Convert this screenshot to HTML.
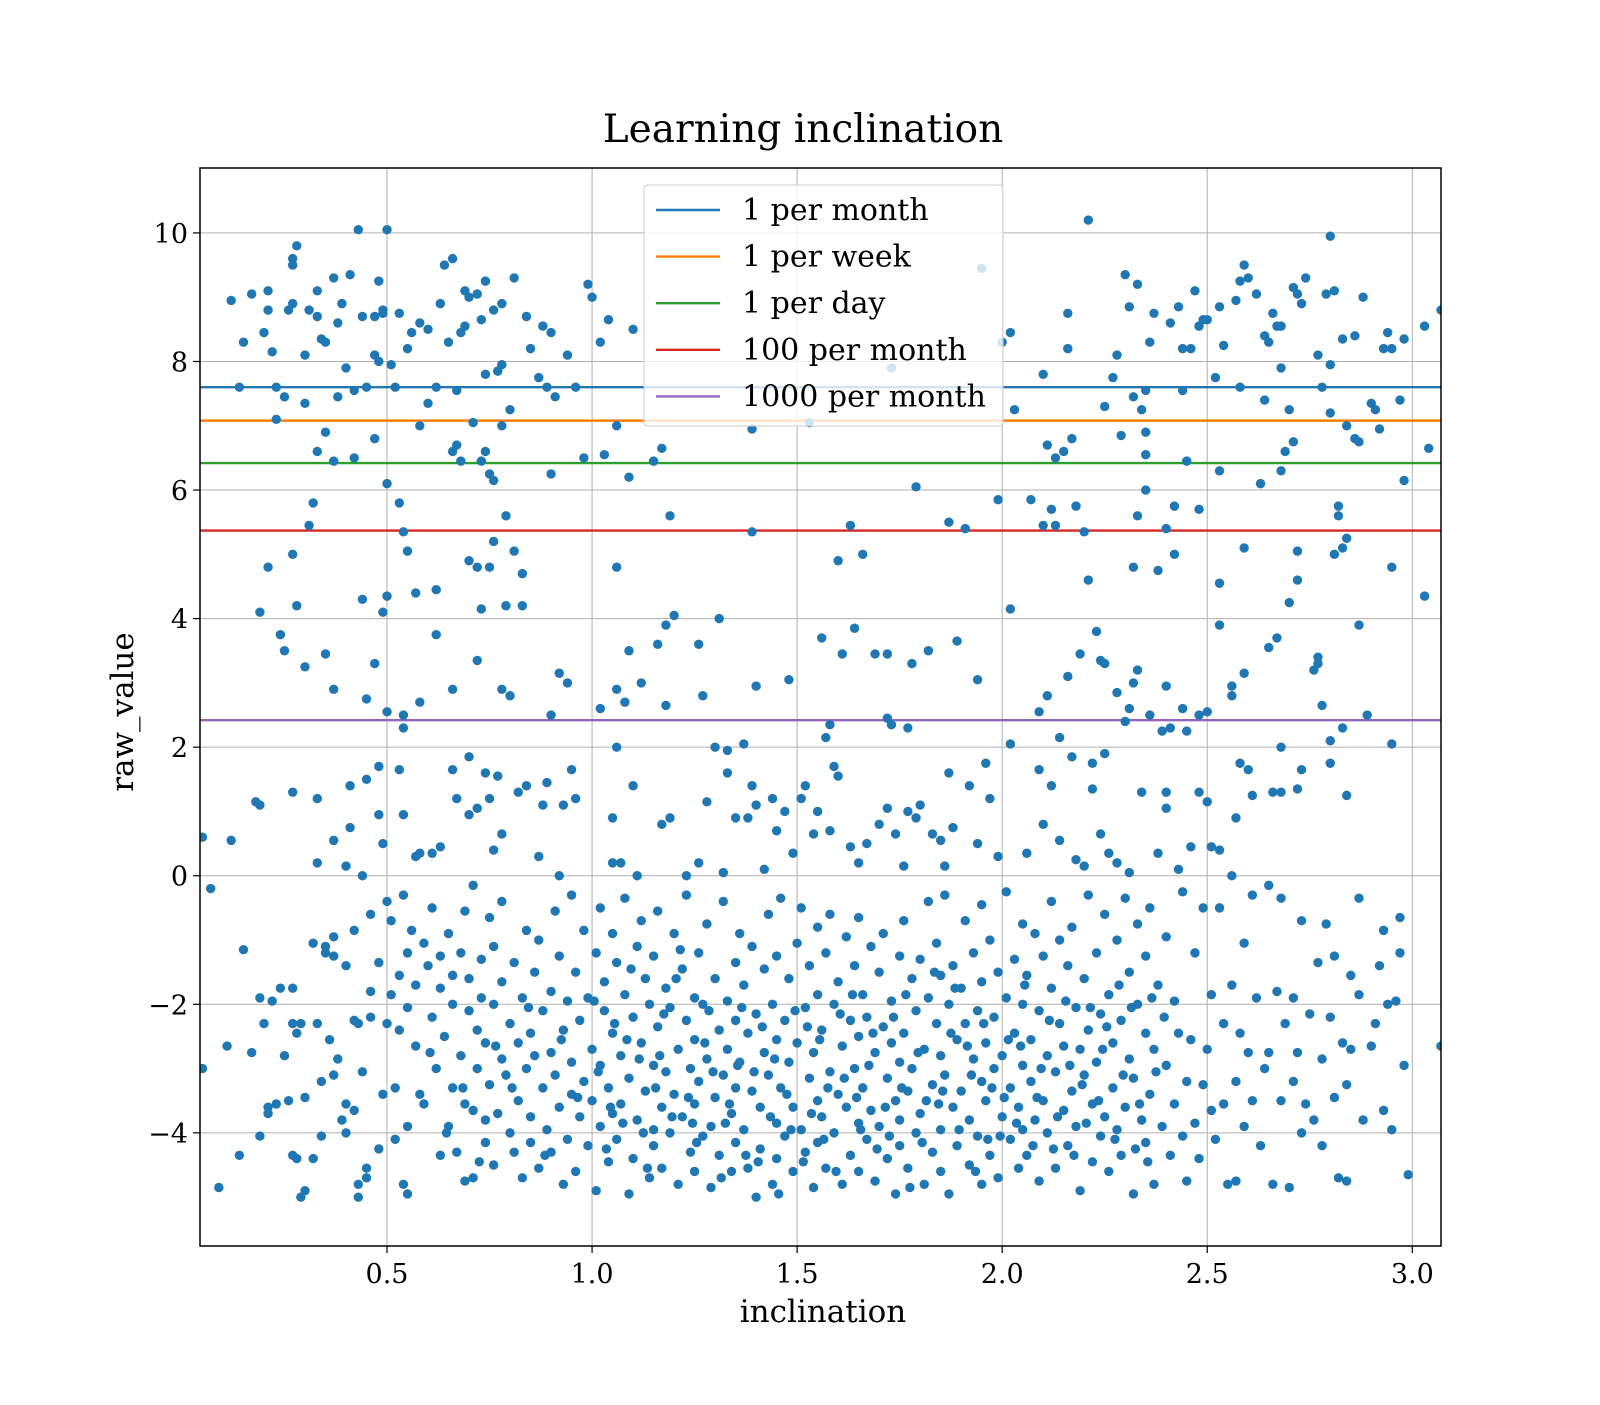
<!DOCTYPE html>
<html><head><meta charset="utf-8"><style>
html,body{margin:0;padding:0;background:#fff}
svg text{font-family:"DejaVu Serif","Liberation Serif",serif;fill:#000}
</style></head><body>
<svg id="chart" width="1600" height="1400" viewBox="0 0 1600 1400">
<rect width="1600" height="1400" fill="#fff"/>
<text x="803" y="142" font-size="39" text-anchor="middle">Learning inclination</text>
<g id="grid"></g>
<g id="hlines"></g>
<g id="points"></g>
<rect x="200" y="168" width="1241" height="1078" fill="none" stroke="#000" stroke-width="1.5"/>
<g id="ticks"></g>
<text x="823" y="1322" font-size="31" text-anchor="middle">inclination</text>
<text x="0" y="0" font-size="31" text-anchor="middle" transform="translate(133,712) rotate(-90)">raw_value</text>
<g id="legend"></g>
</svg>
<script>
const xTicks=[0.5,1.0,1.5,2.0,2.5,3.0];
const xTickLabels=["0.5","1.0","1.5","2.0","2.5","3.0"];
const yTicks=[-4,-2,0,2,4,6,8,10];
const yTickLabels=["\u22124","\u22122","0","2","4","6","8","10"];
const lineNames=["1 per month","1 per week","1 per day","100 per month","1000 per month"];
const lineValues=[7.6,7.08,6.42,5.37,2.42];
const lineColors=["#1f77b4","#ff7f0e","#2ca02c","#d62728","#9467bd"];
const pointData="0.12,8.95;0.14,7.6;0.15,8.3;0.17,9.05;0.2,8.45;0.21,9.1;0.21,8.8;0.22,8.15;0.23,7.6;0.23,7.1;0.25,7.45;0.26,8.8;0.27,8.9;0.27,9.5;0.27,9.6;0.28,9.8;0.30,8.1;0.30,7.35;0.31,8.8;0.33,8.7;0.33,9.1;0.34,8.35;0.35,8.3;0.37,9.3;0.38,7.45;0.38,8.6;0.39,8.9;0.40,7.9;0.41,9.35;0.42,7.55;0.43,10.05;0.44,8.7;0.45,7.6;0.47,8.7;0.47,8.1;0.48,9.25;0.48,8.0;0.49,8.75;0.49,8.8;0.50,10.05;0.51,7.95;0.52,7.6;0.53,8.75;0.55,8.2;0.56,8.45;0.58,8.6;0.58,7.0;0.60,8.5;0.6,7.35;0.62,7.6;0.63,8.9;0.64,9.5;0.65,8.3;0.66,9.6;0.67,7.55;0.68,8.45;0.69,9.1;0.69,8.55;0.70,9.0;0.71,7.05;0.72,9.05;0.73,8.65;0.74,9.25;0.74,7.8;0.76,8.8;0.77,7.85;0.78,8.9;0.78,7.95;0.80,7.25;0.81,9.3;0.84,8.7;0.85,8.2;0.87,7.75;0.88,8.55;0.89,7.6;0.9,8.45;0.91,7.45;0.94,8.1;0.96,7.6;0.99,9.2;1.0,9.0;1.02,8.3;1.04,8.65;1.06,7.0;1.1,8.5;"+
"0.33,6.6;0.35,6.9;0.37,6.45;0.42,6.5;0.47,6.8;0.50,6.1;0.66,6.6;0.67,6.7;0.68,6.45;0.73,6.45;0.74,6.6;0.75,6.25;0.76,6.15;0.78,7.0;0.90,6.25;0.98,6.5;1.03,6.55;1.09,6.2;1.15,6.45;1.17,6.65;1.39,6.95;"+
"0.19,4.1;0.21,4.8;0.27,5.0;0.28,4.2;0.31,5.45;0.32,5.8;0.44,4.3;0.49,4.1;0.5,4.35;0.53,5.8;0.54,5.35;0.55,5.05;0.57,4.4;0.62,4.45;0.70,4.9;0.72,4.8;0.73,4.15;0.75,4.8;0.76,5.2;0.79,5.6;0.79,4.2;0.81,5.05;0.83,4.7;0.83,4.2;1.06,4.8;1.18,3.9;1.2,4.05;1.19,5.6;1.39,5.35;1.31,4.0;"+
"0.24,3.75;0.25,3.5;0.3,3.25;0.35,3.45;0.37,2.9;0.45,2.75;0.47,3.3;0.5,2.55;0.54,2.5;0.54,2.3;0.58,2.7;0.62,3.75;0.66,2.9;0.72,3.35;0.78,2.9;0.80,2.8;0.9,2.5;0.92,3.15;0.94,3.0;1.02,2.6;1.06,2.9;1.08,2.7;1.09,3.5;1.12,3.0;1.16,3.6;1.18,2.65;1.26,3.6;1.27,2.8;1.37,2.05;1.4,2.95;1.06,2.0;1.33,1.95;1.3,2.0;"+
"1.53,7.05;1.73,7.9;1.79,6.05;1.87,5.5;1.91,5.4;1.95,9.45;1.99,5.85;2.0,8.3;2.02,8.45;2.03,7.25;1.6,4.9;1.56,3.7;1.57,2.15;1.58,2.35;1.61,3.45;1.63,5.45;1.64,3.85;1.66,5.0;1.69,3.45;1.72,3.45;1.73,2.35;1.72,2.45;1.77,2.3;1.78,3.3;1.82,3.5;1.89,3.65;1.94,3.05;2.02,4.15;1.48,3.05;"+
"2.1,7.8;2.11,6.7;2.12,5.7;2.13,5.45;2.13,6.5;2.15,6.6;2.16,8.75;2.16,8.2;2.17,6.8;2.18,5.75;2.2,5.35;2.21,10.2;2.23,3.8;2.21,4.6;2.25,7.3;2.27,7.75;2.28,8.1;2.29,6.85;2.3,9.35;2.31,8.85;2.32,7.45;2.33,9.2;2.33,5.6;2.34,7.25;2.35,7.55;2.35,6.9;2.35,6.55;2.35,6.0;2.36,8.3;2.37,8.75;2.38,4.75;2.32,4.8;2.4,5.4;2.41,8.6;2.42,5.75;2.43,8.85;2.44,8.2;2.44,7.55;2.45,6.45;2.46,8.2;2.47,9.1;2.48,8.55;2.48,5.7;2.49,8.65;2.5,8.65;2.52,7.75;2.53,8.85;2.54,8.25;2.53,6.3;2.53,4.55;2.53,3.9;2.57,8.95;2.58,9.25;2.58,7.6;2.59,9.5;2.6,9.3;2.59,5.1;2.62,9.05;2.64,8.4;2.65,8.3;2.66,8.75;2.67,8.55;2.68,8.55;2.68,7.9;2.69,6.6;2.70,7.25;2.71,6.75;2.71,9.15;2.72,9.05;2.73,8.9;2.74,9.3;2.77,8.1;2.78,7.6;2.79,9.05;2.8,9.95;2.81,9.1;2.8,7.95;2.8,7.2;2.82,5.75;2.82,5.6;2.83,8.35;2.84,7.0;2.86,8.4;2.86,6.8;2.87,6.75;2.88,9.0;2.9,7.35;2.91,7.25;2.92,6.95;2.93,8.2;2.94,8.45;2.95,8.2;2.97,7.4;2.98,8.35;2.98,6.15;3.03,8.55;3.07,8.8;3.04,6.65;2.63,6.1;2.68,6.3;2.64,7.4;"+
"2.07,5.85;2.1,5.45;2.09,2.55;2.11,2.8;2.14,2.15;2.16,3.1;2.19,3.45;2.24,3.35;2.25,3.3;2.28,2.85;2.3,2.4;2.31,2.6;2.32,3.0;2.33,3.2;2.36,2.5;2.39,2.25;2.4,2.95;2.41,2.3;2.42,5.0;2.44,2.6;2.45,2.25;2.48,2.5;2.56,2.8;2.59,3.15;2.65,3.55;2.67,3.7;2.68,2.0;2.7,4.25;2.72,4.6;2.72,5.05;2.77,3.4;2.76,3.2;2.77,3.3;2.78,2.65;2.8,2.1;2.81,5.0;2.83,5.1;2.84,5.25;2.83,2.3;2.87,3.9;2.89,2.5;2.95,4.8;2.95,2.05;3.03,4.35;2.56,2.95;2.5,2.55;"+
"0.05,0.6;0.07,-0.2;0.12,0.55;0.18,1.15;0.19,1.1;0.27,1.3;0.33,1.2;0.33,0.2;0.37,0.55;0.4,0.15;0.41,0.75;0.41,1.4;0.44,0.0;0.45,1.5;0.48,1.7;0.48,0.95;0.49,0.5;0.53,1.65;0.54,0.95;0.57,0.3;0.58,0.35;0.61,0.35;0.63,0.45;0.66,1.65;0.67,1.2;0.7,1.85;0.7,0.95;0.72,1.05;0.74,1.6;0.75,1.2;0.76,0.4;0.77,1.55;0.78,0.65;0.82,1.3;0.84,1.4;0.87,0.3;0.88,1.1;0.89,1.45;0.92,0.0;0.93,1.1;0.95,1.65;0.96,1.2;1.05,0.9;1.05,0.2;1.07,0.2;1.1,1.4;1.11,0.0;1.17,0.8;1.19,0.9;1.23,0.0;1.26,0.2;1.28,1.15;1.32,0.05;1.33,1.6;1.35,0.9;1.38,0.9;1.39,1.4;1.4,1.1;1.42,0.1;1.44,1.2;1.45,0.7;1.47,1.0;1.49,0.35;1.51,1.2;1.52,1.4;1.54,0.65;1.55,1.0;1.58,0.7;1.59,1.7;1.6,1.55;1.63,0.45;1.65,0.2;1.67,0.5;1.7,0.8;1.72,1.05;1.74,0.65;1.76,0.15;1.77,1.0;1.79,0.9;1.8,1.1;1.83,0.65;1.85,0.55;1.86,0.15;1.87,1.6;1.88,0.75;1.92,1.4;1.94,0.5;1.96,1.75;1.97,1.2;1.99,0.3;2.02,2.05;2.06,0.35;2.09,1.65;2.1,0.8;2.12,1.4;2.14,0.55;2.17,1.85;2.18,0.25;2.2,0.15;2.22,1.75;2.24,0.65;2.26,0.35;2.28,0.2;2.31,0.05;2.34,1.3;2.38,0.35;2.4,1.3;2.4,1.05;2.43,0.1;2.46,0.45;2.48,1.3;2.5,1.15;2.51,0.45;2.53,0.4;2.56,0.0;2.57,0.9;2.58,1.75;2.6,1.65;2.61,1.25;2.66,1.3;2.68,1.3;2.72,1.35;2.73,1.65;2.8,1.75;2.84,1.25;2.25,1.9;2.22,1.35;"+
"0.05,-3.0;0.09,-4.85;0.11,-2.65;0.14,-4.35;0.15,-1.15;0.17,-2.75;0.19,-4.05;0.19,-1.9;0.2,-2.3;0.21,-3.6;0.21,-3.7;0.22,-1.95;0.23,-3.55;0.24,-1.75;0.25,-2.8;0.26,-3.5;0.27,-1.75;0.27,-2.3;0.28,-2.45;0.27,-4.35;0.28,-4.4;0.29,-5.0;0.3,-4.9;0.29,-2.3;0.3,-3.45;0.32,-1.05;0.32,-4.4;0.33,-2.3;0.34,-3.2;0.34,-4.05;0.35,-1.1;0.35,-1.2;0.36,-2.55;0.37,-0.95;0.37,-1.25;0.37,-3.1;0.38,-2.85;0.39,-3.8;0.4,-3.55;0.4,-1.4;0.4,-4.0;0.42,-2.25;0.42,-0.85;0.42,-3.65;0.43,-4.8;0.43,-5.0;0.43,-2.3;0.44,-3.05;0.45,-4.55;0.45,-4.7;0.46,-1.8;0.46,-2.2;0.46,-0.6;"+
"0.48,-1.35;0.48,-4.25;0.49,-3.4;0.5,-0.4;0.5,-2.3;0.51,-1.85;0.51,-0.7;0.52,-3.3;0.52,-4.1;0.53,-1.55;0.53,-2.4;0.54,-0.3;0.54,-4.8;0.55,-3.9;0.55,-1.2;0.55,-2.05;0.55,-4.95;0.56,-0.85;0.57,-1.7;0.57,-2.65;0.58,-3.4;0.59,-1.05;0.6,-1.4;0.59,-3.55;0.61,-0.5;0.61,-2.2;0.62,-3.0;0.63,-4.35;0.63,-1.25;0.63,-1.75;0.64,-2.5;0.65,-0.9;0.65,-3.9;0.66,-2.0;0.66,-1.55;0.66,-3.3;"+
"0.67,-4.3;0.68,-2.8;0.68,-1.2;0.69,-0.55;0.69,-3.55;0.69,-4.75;0.7,-2.1;0.7,-1.6;0.71,-3.65;0.71,-4.7;0.71,-0.15;0.72,-2.4;0.72,-3.0;0.73,-1.3;0.73,-1.9;0.74,-4.15;0.74,-2.6;0.74,-3.8;0.75,-0.65;0.75,-3.25;0.76,-1.1;0.76,-2.0;0.76,-4.5;0.77,-3.7;0.78,-2.85;0.78,-0.4;0.78,-1.65;0.79,-3.1;0.8,-4.0;0.8,-2.3;0.81,-1.35;0.81,-4.3;0.82,-3.5;0.82,-2.6;0.83,-4.7;0.83,-1.9;0.84,-3.0;0.84,-0.85;0.85,-2.45;0.85,-3.75;0.85,-4.15;"+
"0.86,-1.5;0.86,-2.8;0.87,-4.55;0.87,-1.0;0.88,-3.3;0.88,-2.1;0.89,-3.95;0.9,-1.8;0.9,-2.75;0.9,-4.3;0.91,-0.55;0.91,-3.1;0.92,-1.25;0.92,-3.6;0.93,-4.8;0.93,-2.4;0.94,-1.95;0.94,-4.1;0.95,-0.3;0.95,-3.4;0.95,-2.9;0.96,-1.5;0.96,-4.6;0.97,-3.75;0.97,-2.25;0.98,-0.85;0.98,-3.2;0.99,-1.9;0.99,-4.2;1.0,-2.7;1.0,-3.5;1.01,-1.2;1.01,-4.9;1.02,-2.95;1.02,-0.5;1.02,-3.9;1.03,-2.1;1.03,-1.65;1.04,-4.45;1.04,-3.3;1.05,-2.45;1.05,-0.9;1.05,-3.7;"+
"1.06,-1.35;1.06,-4.1;1.07,-2.8;1.07,-3.55;1.08,-0.35;1.08,-1.85;1.09,-4.95;1.09,-3.15;1.1,-2.2;1.1,-4.4;1.11,-1.1;1.11,-3.8;1.12,-2.6;1.12,-0.7;1.13,-3.35;1.13,-1.6;1.14,-4.7;1.14,-2.0;1.15,-3.95;1.15,-2.95;1.15,-1.25;1.15,-4.2;1.16,-0.55;1.16,-2.35;1.17,-3.6;1.17,-4.55;1.18,-1.75;1.18,-3.05;1.19,-2.05;1.19,-4.0;1.2,-0.9;1.2,-3.4;1.21,-2.7;1.21,-4.8;1.22,-1.45;1.22,-3.75;1.23,-2.25;1.23,-0.3;1.24,-4.3;1.24,-3.0;1.25,-1.9;1.25,-2.55;1.25,-3.55;1.25,-4.6;"+
"1.26,-1.2;1.26,-3.2;1.27,-4.05;1.27,-2.0;1.28,-0.75;1.28,-2.85;1.29,-3.9;1.29,-4.85;1.3,-1.6;1.3,-3.45;1.31,-2.4;1.31,-4.35;1.32,-0.4;1.32,-3.1;1.33,-1.95;1.33,-2.7;1.34,-4.6;1.34,-3.7;1.35,-1.35;1.35,-2.25;1.35,-3.3;1.35,-4.15;1.36,-0.9;1.36,-2.9;1.37,-3.95;1.37,-1.7;1.38,-4.55;1.38,-2.45;1.39,-3.35;1.39,-1.1;1.4,-5.0;1.4,-2.15;1.41,-3.6;1.41,-4.25;1.42,-1.45;1.42,-2.75;1.43,-0.6;1.43,-3.1;1.44,-4.8;1.44,-2.0;1.45,-3.85;1.45,-2.55;1.45,-1.25;1.45,-4.4;"+
"1.46,-0.35;1.46,-3.3;1.47,-2.25;1.47,-4.05;1.48,-1.6;1.48,-2.9;1.49,-4.6;1.49,-3.6;1.5,-1.05;1.5,-2.6;1.51,-3.95;1.51,-0.5;1.52,-2.05;1.52,-4.3;1.53,-3.15;1.53,-1.4;1.54,-4.85;1.54,-2.75;1.55,-3.5;1.55,-1.85;1.55,-0.8;1.55,-4.15;1.56,-2.4;1.56,-3.75;1.57,-4.55;1.57,-1.2;1.58,-3.05;1.58,-0.6;1.59,-2.0;1.59,-4.0;1.6,-3.4;1.6,-1.65;1.61,-4.8;1.61,-2.65;1.62,-0.95;1.62,-3.6;1.63,-2.25;1.63,-4.35;1.64,-1.4;1.64,-3.0;1.65,-3.85;1.65,-2.5;1.65,-0.65;1.65,-4.6;"+
"1.66,-1.85;1.66,-3.3;1.67,-4.1;1.67,-2.2;1.68,-1.1;1.68,-3.65;1.69,-4.75;1.69,-2.75;1.7,-1.5;1.7,-3.9;1.71,-2.35;1.71,-0.9;1.72,-4.4;1.72,-3.15;1.73,-1.95;1.73,-2.6;1.74,-3.5;1.74,-4.95;1.75,-1.25;1.75,-2.9;1.75,-3.8;1.75,-4.2;1.76,-0.7;1.76,-2.45;1.77,-3.35;1.77,-4.55;1.78,-1.6;1.78,-3.0;1.79,-2.1;1.79,-4.0;1.8,-1.3;1.8,-3.7;1.81,-2.7;1.81,-4.8;1.82,-0.4;1.82,-1.9;1.83,-3.25;1.83,-4.3;1.84,-2.3;1.84,-1.05;1.85,-3.95;1.85,-2.8;1.85,-1.55;1.85,-4.6;"+
"1.86,-0.3;1.86,-3.1;1.87,-2.0;1.87,-4.95;1.88,-1.4;1.88,-3.6;1.89,-2.55;1.89,-4.2;1.9,-1.75;1.9,-3.35;1.91,-0.7;1.91,-2.3;1.92,-4.5;1.92,-3.8;1.93,-1.2;1.93,-2.85;1.94,-2.1;1.94,-4.05;1.95,-0.45;1.95,-3.2;1.95,-1.65;1.95,-4.8;1.96,-2.6;1.96,-3.5;1.97,-1.0;1.97,-4.35;1.98,-2.2;1.98,-3.0;1.99,-1.5;1.99,-4.7;2.0,-2.8;2.0,-3.75;2.01,-0.25;2.01,-1.9;2.02,-4.1;2.02,-3.3;2.03,-2.45;2.03,-1.3;2.04,-4.55;2.04,-3.6;2.05,-2.0;2.05,-0.75;2.05,-2.95;2.05,-3.95;"+
"2.06,-1.55;2.06,-4.35;2.07,-3.2;2.07,-2.55;2.08,-0.9;2.08,-3.8;2.09,-4.75;2.09,-2.1;2.1,-1.25;2.1,-3.5;2.11,-2.8;2.11,-4.0;2.12,-0.4;2.12,-1.75;2.13,-3.05;2.13,-4.55;2.14,-2.3;2.14,-1.0;2.15,-3.65;2.15,-2.65;2.16,-1.4;2.16,-4.2;2.17,-3.35;2.17,-0.8;2.18,-2.05;2.18,-3.9;2.19,-2.7;2.19,-4.9;2.2,-1.6;2.2,-3.1;2.21,-0.3;2.21,-2.4;2.22,-4.45;2.22,-3.55;2.23,-1.2;2.23,-2.9;2.24,-2.15;2.24,-4.05;2.25,-0.6;2.25,-3.75;"+
"2.26,-1.85;2.26,-4.6;2.27,-2.6;2.27,-3.3;2.28,-1.0;2.28,-3.95;2.29,-2.25;2.29,-4.35;2.3,-0.35;2.3,-3.6;2.31,-1.5;2.31,-2.85;2.32,-4.95;2.32,-3.15;2.33,-2.0;2.33,-0.75;2.34,-3.8;2.35,-4.15;2.35,-2.45;2.35,-1.25;2.36,-0.5;2.36,-3.4;2.37,-4.8;2.37,-2.7;2.38,-1.7;2.39,-3.9;2.4,-0.95;2.4,-2.95;2.41,-4.35;2.42,-1.95;2.42,-3.55;2.43,-2.45;2.44,-4.05;2.44,-0.25;2.45,-3.2;2.45,-4.75;"+
"2.46,-2.55;2.47,-1.2;2.47,-3.85;2.48,-4.4;2.49,-0.5;2.49,-3.25;2.5,-2.7;2.51,-1.85;2.51,-3.65;2.52,-4.1;2.53,-0.5;2.54,-2.3;2.54,-3.55;2.55,-4.8;2.56,-1.7;2.57,-3.2;2.57,-4.75;2.58,-2.45;2.59,-1.05;2.59,-3.9;2.6,-2.75;2.61,-0.3;2.61,-3.5;2.62,-1.9;2.63,-4.2;2.64,-3.0;2.65,-0.15;2.65,-2.75;2.66,-4.8;2.67,-1.8;2.68,-3.5;2.68,-0.35;2.69,-2.3;2.7,-4.85;2.71,-3.2;2.71,-1.9;2.72,-2.75;2.73,-4.0;2.73,-0.7;2.74,-3.55;2.75,-2.15;"+
"2.76,-3.8;2.77,-1.35;2.78,-4.2;2.78,-2.85;2.79,-0.75;2.8,-2.2;2.81,-3.45;2.81,-1.25;2.82,-4.7;2.83,-2.6;2.84,-4.75;2.84,-3.25;2.85,-1.55;2.85,-2.7;2.87,-0.35;2.87,-1.85;2.88,-3.8;2.9,-2.65;2.91,-2.3;2.92,-1.4;2.93,-3.65;2.93,-0.85;2.94,-2.0;2.95,-3.95;2.96,-1.95;2.97,-1.2;2.97,-0.65;2.98,-2.95;2.99,-4.65;3.07,-2.65;"+
"1.015,-3.05;1.035,-4.25;1.055,-2.3;1.075,-3.85;1.095,-1.45;1.115,-2.85;1.135,-4.55;1.155,-3.3;1.175,-2.15;1.195,-3.75;1.215,-1.15;1.235,-3.45;1.255,-4.15;1.275,-2.6;1.295,-3.05;1.315,-4.7;1.335,-3.55;1.355,-2.95;1.375,-4.35;1.395,-3.05;1.415,-2.35;1.435,-3.75;1.455,-4.95;1.475,-3.4;1.495,-2.1;1.515,-4.45;1.535,-3.7;1.555,-2.55;1.575,-3.3;1.595,-4.6;1.615,-3.15;1.635,-1.85;1.655,-3.95;1.675,-2.95;1.695,-4.25;1.715,-3.6;1.735,-2.2;1.755,-3.3;1.775,-4.85;1.795,-2.75;1.815,-3.5;1.835,-1.5;1.855,-3.35;1.875,-2.45;1.895,-3.95;1.915,-2.65;1.935,-4.6;1.955,-2.3;1.975,-3.3;1.995,-4.05;2.015,-2.55;2.035,-3.85;2.055,-1.7;2.075,-4.2;2.095,-3.0;2.115,-2.25;2.135,-3.75;2.155,-1.95;2.175,-4.35;2.195,-3.25;2.215,-2.05;2.235,-3.5;2.255,-2.35;2.275,-4.1;2.295,-3.1;2.315,-2.05;2.335,-3.55;2.355,-4.45;2.375,-3.05;2.395,-2.2;"+
"1.005,-1.95;1.045,-3.6;1.085,-2.55;1.125,-4.0;1.165,-2.8;1.205,-1.6;1.245,-3.85;1.285,-2.1;1.325,-3.85;1.365,-2.05;1.405,-4.45;1.445,-2.85;1.485,-3.95;1.525,-2.35;1.565,-4.1;1.605,-2.15;1.645,-3.45;1.685,-2.45;1.725,-4.05;1.765,-1.85;1.805,-4.15;1.845,-3.55;1.885,-1.75;1.925,-3.1;1.965,-4.1;2.005,-3.45;2.045,-2.65;2.085,-3.45;2.125,-4.25;2.165,-2.95;2.205,-3.85;2.245,-2.7;2.285,-1.7;2.325,-4.25;2.365,-1.9;0.605,-2.75;0.645,-4.0;0.685,-3.3;0.725,-4.45;0.765,-2.65;0.805,-3.3;0.845,-2.05;0.885,-4.35;0.925,-2.55;0.965,-3.45";
const pointX=[],pointY=[];
pointData.split(";").forEach(s=>{const p=s.split(",");pointX.push(+p[0]);pointY.push(+p[1]);});

const NS="http://www.w3.org/2000/svg";
const L=200,R=1441,T=168,B=1246;
const xMin=0.044,xMax=3.07,yMin=-5.76,yMax=11.01;
function sx(v){return L+(v-xMin)/(xMax-xMin)*(R-L);}
function sy(v){return B-(v-yMin)/(yMax-yMin)*(B-T);}
function mk(tag,attrs,parent){const e=document.createElementNS(NS,tag);for(const k in attrs)e.setAttribute(k,attrs[k]);parent.appendChild(e);return e;}
const grid=document.getElementById('grid'),ticks=document.getElementById('ticks');
xTicks.forEach((v,i)=>{
  const g=mk('line',{x1:sx(v),x2:sx(v),y1:T,y2:B,stroke:'#b0b0b0','stroke-width':1},grid);
  
  
  const t=mk('line',{x1:sx(v),x2:sx(v),y1:B,y2:B+7,stroke:'#000','stroke-width':1.2},ticks);
  
  
  const l=mk('text',{x:sx(v),y:B+37,'font-size':27,'text-anchor':'middle'},ticks);
  l.textContent=xTickLabels[i];
  
  
});
yTicks.forEach((v,i)=>{
  const g=mk('line',{x1:L,x2:R,y1:sy(v),y2:sy(v),stroke:'#b0b0b0','stroke-width':1},grid);
  
  
  const t=mk('line',{x1:L-7,x2:L,y1:sy(v),y2:sy(v),stroke:'#000','stroke-width':1.2},ticks);
  
  
  const l=mk('text',{x:L-12,y:sy(v)+10,'font-size':27,'text-anchor':'end'},ticks);
  l.textContent=yTickLabels[i];
  
  
});
const hl=document.getElementById('hlines');
lineValues.forEach((v,i)=>{
  const e=mk('line',{x1:L,x2:R,y1:sy(v),y2:sy(v),stroke:lineColors[i],'stroke-width':2.4},hl);
  
  
});
const pg=document.getElementById('points');
const clip=mk('clipPath',{id:'pc'},document.getElementById('chart'));
mk('rect',{x:L,y:T,width:R-L,height:B-T},clip);
pg.setAttribute('clip-path','url(#pc)');
pointX.forEach((x,i)=>{
  const c=mk('circle',{cx:sx(x),cy:sy(pointY[i]),r:4.7,fill:'#1f77b4'},pg);
  
  
});
const lg=document.getElementById('legend');
const box=mk('rect',{x:644,y:185,width:359,height:241,rx:4,fill:'#fff','fill-opacity':0.8,stroke:'#cccccc','stroke-width':1},lg);


lineNames.forEach((n,i)=>{
  const y=210+i*46.6;
  const ln=mk('line',{x1:656,x2:720,y1:y,y2:y,stroke:lineColors[i],'stroke-width':2.4},lg);
  
  
  const t=mk('text',{x:742,y:y+10,'font-size':30},lg);
  t.textContent=n;
  
  
});
</script>
</body></html>
